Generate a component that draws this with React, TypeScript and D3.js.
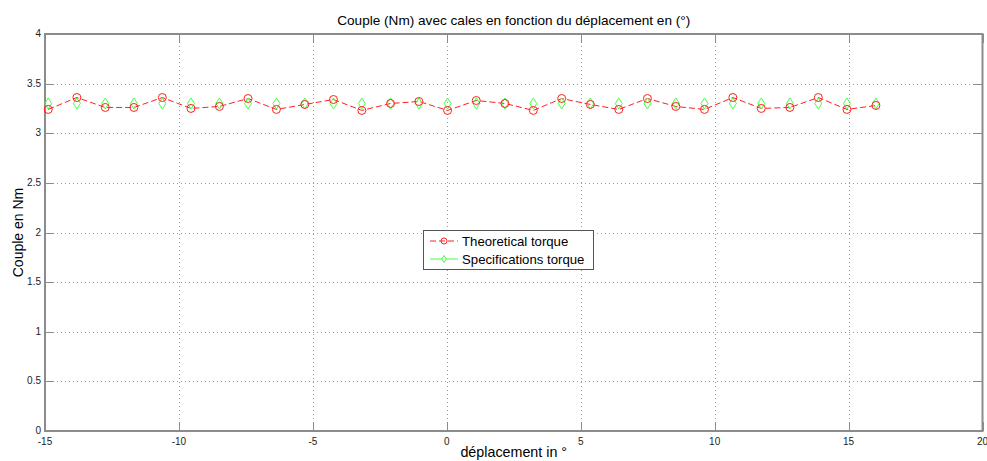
import React, { useEffect } from "react";
import * as d3 from "d3";

// x positions (degrees) of the samples
const displacement = [
  -14.88, -13.81, -12.75, -11.68, -10.62, -9.55, -8.49, -7.42, -6.36, -5.30,
  -4.23, -3.17, -2.10, -1.04, 0.03, 1.10, 2.17, 3.23, 4.29, 5.36,
  6.42, 7.49, 8.55, 9.62, 10.68, 11.74, 12.81, 13.87, 14.94, 16.02,
];

const theoreticalTorque = [
  3.24, 3.36, 3.26, 3.26, 3.36, 3.25, 3.27, 3.35, 3.24, 3.29,
  3.34, 3.23, 3.30, 3.32, 3.23, 3.33, 3.30, 3.23, 3.35, 3.29,
  3.24, 3.35, 3.27, 3.24, 3.36, 3.25, 3.26, 3.36, 3.24, 3.28,
];

const specTorque = [
  3.3, 3.3, 3.3, 3.3, 3.3, 3.3, 3.3, 3.3, 3.3, 3.3,
  3.3, 3.3, 3.3, 3.3, 3.3, 3.3, 3.3, 3.3, 3.3, 3.3,
  3.3, 3.3, 3.3, 3.3, 3.3, 3.3, 3.3, 3.3, 3.3, 3.3,
];

const xTicks = [-15, -10, -5, 0, 5, 10, 15, 20];
const yTicks = [0, 0.5, 1, 1.5, 2, 2.5, 3, 3.5, 4];

const width = 987;
const height = 461;
const margin = { top: 34, right: 4, bottom: 30, left: 45 };

const App = () => {
  useEffect(() => {
    document.body.style.margin = "0";
  }, []);

  const x = d3
    .scaleLinear()
    .domain([-15, 20])
    .range([margin.left, width - margin.right - 0.5]);
  const y = d3
    .scaleLinear()
    .domain([0, 4])
    .range([height - margin.bottom, margin.top]);

  const line = d3
    .line<number>()
    .x((_, i) => x(displacement[i]))
    .y((d) => y(d));

  const font = "'Liberation Sans', Arial, sans-serif";
  const x0 = x(-15);
  const x1 = x(20);
  const y0 = y(0);
  const y1 = y(4);
  const axisColor = "#8c8c8c";

  const diamond = (cx: number, cy: number) =>
    `M${cx},${cy - 5.5}L${cx + 3.5},${cy}L${cx},${cy + 5.5}L${cx - 3.5},${cy}Z`;

  return (
    <svg width={width} height={height} style={{ display: "block", background: "#fff" }} fontFamily={font}>
      {/* grid */}
      <g stroke="#9a9a9a" strokeWidth={1} strokeDasharray="1,3">
        {xTicks.slice(1, -1).map((t) => (
          <line key={"gx" + t} x1={Math.round(x(t)) + 0.5} x2={Math.round(x(t)) + 0.5} y1={y1} y2={y0} />
        ))}
        {yTicks.slice(1, -1).map((t) => (
          <line key={"gy" + t} x1={x0} x2={x1} y1={Math.round(y(t)) + 0.5} y2={Math.round(y(t)) + 0.5} />
        ))}
      </g>

      {/* ticks on all four sides */}
      <g stroke={axisColor} strokeWidth={1}>
        {xTicks.map((t) => (
          <g key={"tx" + t}>
            <line x1={Math.round(x(t)) + 0.5} x2={Math.round(x(t)) + 0.5} y1={y0} y2={y0 - 9} />
            <line x1={Math.round(x(t)) + 0.5} x2={Math.round(x(t)) + 0.5} y1={y1} y2={y1 + 9} />
          </g>
        ))}
        {yTicks.map((t) => (
          <g key={"ty" + t}>
            <line x1={x0} x2={x0 + 9} y1={Math.round(y(t)) + 0.5} y2={Math.round(y(t)) + 0.5} />
            <line x1={x1} x2={x1 - 9} y1={Math.round(y(t)) + 0.5} y2={Math.round(y(t)) + 0.5} />
          </g>
        ))}
      </g>

      {/* axes box */}
      <rect x={x0} y={y1} width={x1 - x0} height={y0 - y1} fill="none" stroke={axisColor} strokeWidth={2} />

      {/* tick labels */}
      <g fontSize={10} fill="#222">
        {xTicks.map((t) => (
          <text key={"lx" + t} x={x(t)} y={y0 + 14} textAnchor="middle">
            {t}
          </text>
        ))}
        {yTicks.map((t) => (
          <text key={"ly" + t} x={x0 - 4} y={y(t) + 3} textAnchor="end">
            {t}
          </text>
        ))}
      </g>

      {/* series */}
      <path
        d={line(theoreticalTorque) || ""}
        fill="none"
        stroke="#ff2020"
        strokeWidth={1}
        strokeDasharray="6,3"
      />
      <g fill="none" stroke="#44ff44" strokeWidth={1}>
        {specTorque.map((v, i) => (
          <path key={"s" + i} d={diamond(x(displacement[i]), y(v))} />
        ))}
      </g>
      <g fill="none" stroke="#ff2020" strokeWidth={1}>
        {theoreticalTorque.map((v, i) => (
          <circle key={"t" + i} cx={x(displacement[i])} cy={y(v)} r={4} />
        ))}
      </g>

      {/* title and axis labels */}
      <text x={(x0 + x1) / 2} y={25} textAnchor="middle" fontSize={13.6} fill="#000">
        Couple (Nm) avec cales en fonction du déplacement en (°)
      </text>
      <text x={(x0 + x1) / 2} y={457} textAnchor="middle" fontSize={14.3} fill="#000">
        déplacement in °
      </text>
      <text
        transform={`translate(23,${(y0 + y1) / 2}) rotate(-90)`}
        textAnchor="middle"
        fontSize={14}
        fill="#000"
      >
        Couple en Nm
      </text>

      {/* legend */}
      <g>
        <rect x={423.5} y={230.5} width={170} height={39} fill="#fff" stroke="#555" strokeWidth={1} />
        <line x1={430} x2={458} y1={241} y2={241} stroke="#ff2020" strokeDasharray="6,3" />
        <circle cx={444} cy={241} r={3} fill="none" stroke="#ff2020" />
        <text x={462} y={245.5} fontSize={13.2} fill="#000">
          Theoretical torque
        </text>
        <line x1={430} x2={458} y1={259} y2={259} stroke="#44ff44" />
        <path d={`M444,255.5L446.2,259L444,262.5L441.8,259Z`} fill="#fff" stroke="#44ff44" />
        <text x={462} y={263.5} fontSize={13.2} fill="#000">
          Specifications torque
        </text>
      </g>
    </svg>
  );
};

export default App;
